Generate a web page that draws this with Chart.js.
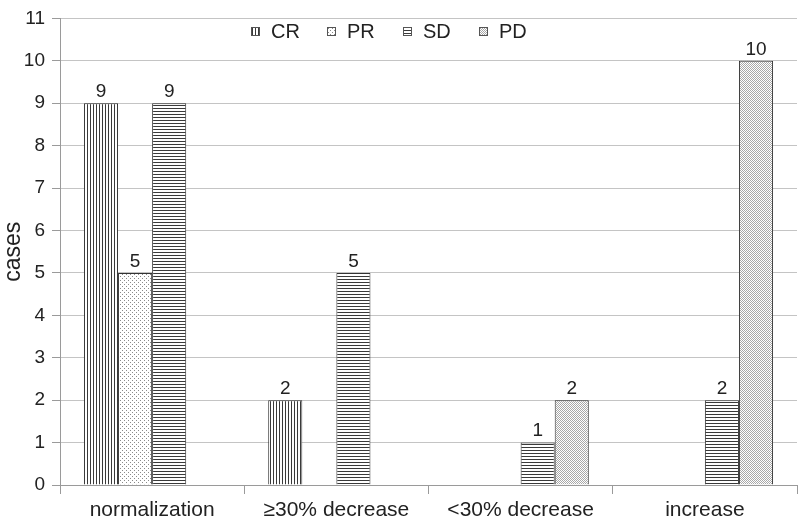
<!DOCTYPE html>
<html>
<head>
<meta charset="utf-8">
<script src="https://cdn.jsdelivr.net/npm/chart.js@4/dist/chart.umd.min.js"></script>
<style>
  html, body { margin: 0; padding: 0; background: #fff; }
  #wrap { width: 800px; height: 521px; }
</style>
</head>
<body>
<div id="wrap"><canvas id="chart" width="800" height="521"></canvas></div>
<script>
// categories and series
var categories = ['normalization', '\u226530% decrease', '<30% decrease', 'increase'];
var seriesNames = ['CR', 'PR', 'SD', 'PD'];
var crValues = [9, 2, null, null];
var prValues = [5, null, null, null];
var sdValues = [9, 5, 1, 2];
var pdValues = [null, null, 2, 10];
var yTicks = [0, 1, 2, 3, 4, 5, 6, 7, 8, 9, 10, 11];

var FONT = '"Liberation Sans", Arial, Helvetica, sans-serif';
var textColor = '#222';
var gridColor = '#c4c4c4';
var axisColor = '#9a9a9a';
var barBorder = '#333';

// small fill patterns like the print version
function makePattern(kind) {
  var c = document.createElement('canvas');
  var g = c.getContext('2d');
  if (kind === 'vertical') {
    c.width = 3; c.height = 3;
    g.fillStyle = '#fff'; g.fillRect(0, 0, 3, 3);
    g.fillStyle = '#3a3a3a'; g.fillRect(0, 0, 1, 3);
  } else if (kind === 'horizontal') {
    c.width = 3; c.height = 3;
    g.fillStyle = '#fff'; g.fillRect(0, 0, 3, 3);
    g.fillStyle = '#3a3a3a'; g.fillRect(0, 0, 3, 1);
  } else if (kind === 'dots') {
    c.width = 4; c.height = 4;
    g.fillStyle = '#fff'; g.fillRect(0, 0, 4, 4);
    g.fillStyle = '#8a8a8a';
    g.fillRect(0, 0, 1, 1);
    g.fillRect(2, 2, 1, 1);
  } else {
    c.width = 2; c.height = 2;
    g.fillStyle = '#fff'; g.fillRect(0, 0, 2, 2);
    g.fillStyle = '#a8a8a8';
    g.fillRect(0, 0, 1, 1);
    g.fillRect(1, 1, 1, 1);
  }
  return g.createPattern(c, 'repeat');
}

var patterns = [makePattern('vertical'), makePattern('dots'), makePattern('horizontal'), makePattern('stipple')];
var seriesValues = [crValues, prValues, sdValues, pdValues];

// value labels above bars
var valueLabels = {
  id: 'valueLabels',
  afterDatasetsDraw: function (chart) {
    var ctx = chart.ctx;
    ctx.save();
    ctx.font = '19px ' + FONT;
    ctx.fillStyle = textColor;
    ctx.textAlign = 'center';
    ctx.textBaseline = 'bottom';
    chart.data.datasets.forEach(function (ds, di) {
      var meta = chart.getDatasetMeta(di);
      meta.data.forEach(function (bar, i) {
        var v = ds.data[i];
        if (v === null || v === undefined) return;
        ctx.fillText(String(v), bar.x, bar.y - 2);
      });
    });
    ctx.restore();
  }
};

// legend drawn inside the plot, near the top
var innerLegend = {
  id: 'innerLegend',
  afterDraw: function (chart) {
    var ctx = chart.ctx;
    var x = 251, y = 27, step = 76, box = 9;
    ctx.save();
    ctx.font = '20px ' + FONT;
    ctx.textBaseline = 'middle';
    ctx.textAlign = 'left';
    chart.data.datasets.forEach(function (ds, di) {
      var bx = x + di * step;
      ctx.fillStyle = ds.backgroundColor;
      ctx.fillRect(bx, y, box, box);
      ctx.strokeStyle = '#555';
      ctx.lineWidth = 1;
      ctx.strokeRect(bx + 0.5, y + 0.5, box - 1, box - 1);
      ctx.fillStyle = textColor;
      ctx.fillText(ds.label, bx + 20, y + box / 2 + 1);
    });
    ctx.restore();
  }
};

var datasets = seriesNames.map(function (name, i) {
  return {
    label: name,
    data: seriesValues[i],
    backgroundColor: patterns[i],
    borderColor: barBorder,
    borderWidth: 1,
    barPercentage: 1,
    categoryPercentage: 0.74
  };
});

new Chart(document.getElementById('chart'), {
  type: 'bar',
  data: { labels: categories, datasets: datasets },
  plugins: [valueLabels, innerLegend],
  options: {
    responsive: false,
    animation: false,
    layout: { padding: { top: 10, right: 3, left: 0, bottom: 0 } },
    plugins: {
      legend: { display: false },
      tooltip: { enabled: false }
    },
    scales: {
      x: {
        grid: {
          offset: true,
          drawOnChartArea: false,
          drawTicks: true,
          tickLength: 9,
          color: axisColor
        },
        border: { color: axisColor },
        ticks: {
          color: textColor,
          font: { family: FONT, size: 21 },
          padding: 4,
          maxRotation: 0
        },
        afterFit: function (scale) { scale.height = 36; }
      },
      y: {
        min: 0,
        max: 11,
        afterBuildTicks: function (scale) {
          scale.ticks = yTicks.map(function (v) { return { value: v }; });
        },
        grid: {
          color: gridColor,
          tickLength: 8,
          tickColor: axisColor
        },
        border: { color: axisColor },
        ticks: {
          color: textColor,
          font: { family: FONT, size: 19 },
          padding: 7
        },
        title: {
          display: true,
          text: 'cases',
          color: textColor,
          font: { family: FONT, size: 23 },
          padding: 0
        },
        afterFit: function (scale) { scale.width = 60; }
      }
    }
  }
});
</script>
</body>
</html>
